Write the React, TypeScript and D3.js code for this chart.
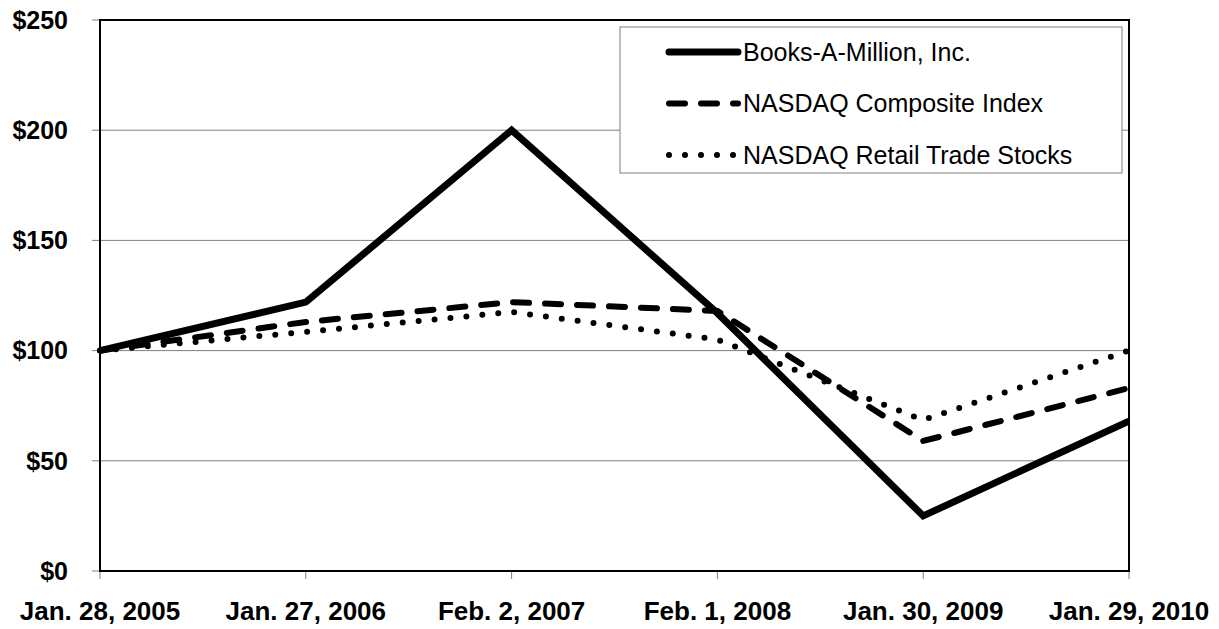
import React from "react";
import * as d3 from "d3";

const categories = ["Jan. 28, 2005", "Jan. 27, 2006", "Feb. 2, 2007", "Feb. 1, 2008", "Jan. 30, 2009", "Jan. 29, 2010"];
const booksAMillion = [100, 122, 200, 117, 25, 68];
const nasdaqComposite = [100, 113, 122, 118, 59, 83];
const nasdaqRetail = [100, 108.5, 117.5, 105, 68.5, 100];
const yTicks = [0, 50, 100, 150, 200, 250];
const seriesNames = ["Books-A-Million, Inc.", "NASDAQ Composite Index", "NASDAQ Retail Trade Stocks"];

const W = 1219, H = 629;
const L = 100, R = 1129, T = 20, B = 571;

const styles = [
  { width: 7, dash: undefined as string | undefined, cap: "butt" },
  { width: 6, dash: "16 16", cap: "round" },
  { width: 6, dash: "0 16", cap: "round" },
];

export default function App() {
  const x = d3.scalePoint<string>().domain(categories).range([L, R]);
  const y = d3.scaleLinear().domain([0, 250]).range([B, T]);
  const line = d3.line<number>().x((_, i) => x(categories[i]) as number).y((d) => y(d));
  const series = [booksAMillion, nasdaqComposite, nasdaqRetail];
  const font = "'Liberation Sans', Arial, sans-serif";

  return (
    <svg width={W} height={H} style={{ position: "absolute", left: 0, top: 0, background: "#fff" }}>
      <rect x={0} y={0} width={W} height={H} fill="#fff" />
      {yTicks.filter((t) => t > 0 && t < 250).map((t) => (
        <line key={"g" + t} x1={L} x2={R} y1={y(t)} y2={y(t)} stroke="#808080" strokeWidth={1} />
      ))}
      {yTicks.map((t) => (
        <line key={"yt" + t} x1={L - 8} x2={L} y1={y(t)} y2={y(t)} stroke="#808080" strokeWidth={1} />
      ))}
      {categories.map((c) => (
        <line key={"xt" + c} x1={x(c)} x2={x(c)} y1={B} y2={B + 8} stroke="#808080" strokeWidth={1} />
      ))}
      <rect x={L} y={T} width={R - L} height={B - T} fill="none" stroke="#000" strokeWidth={2} />
      {yTicks.map((t) => (
        <text key={"yl" + t} x={68} y={y(t)} dy="0.35em" textAnchor="end" fontFamily={font} fontWeight="bold" fontSize={25}>
          ${t}
        </text>
      ))}
      {categories.map((c) => (
        <text key={"xl" + c} x={x(c)} y={620} textAnchor="middle" fontFamily={font} fontWeight="bold" fontSize={26}>
          {c}
        </text>
      ))}
      {series.map((s, i) => (
        <path key={"s" + i} d={line(s) as string} fill="none" stroke="#000" strokeWidth={styles[i].width}
          strokeDasharray={styles[i].dash} strokeLinecap={styles[i].cap as any} strokeLinejoin="miter" />
      ))}
      <rect x={620} y={27} width={502} height={146} fill="#fff" stroke="#808080" strokeWidth={1} />
      {seriesNames.map((n, i) => {
        const cy = 52 + i * 51.5;
        return (
          <g key={"lg" + i}>
            <line x1={669} x2={738} y1={cy} y2={cy} stroke="#000" strokeWidth={styles[i].width}
              strokeDasharray={styles[i].dash} strokeLinecap={i === 0 ? "round" : (styles[i].cap as any)} />
            <text x={743} y={cy} dy="0.35em" fontFamily={font} fontSize={25}>{n}</text>
          </g>
        );
      })}
    </svg>
  );
}
